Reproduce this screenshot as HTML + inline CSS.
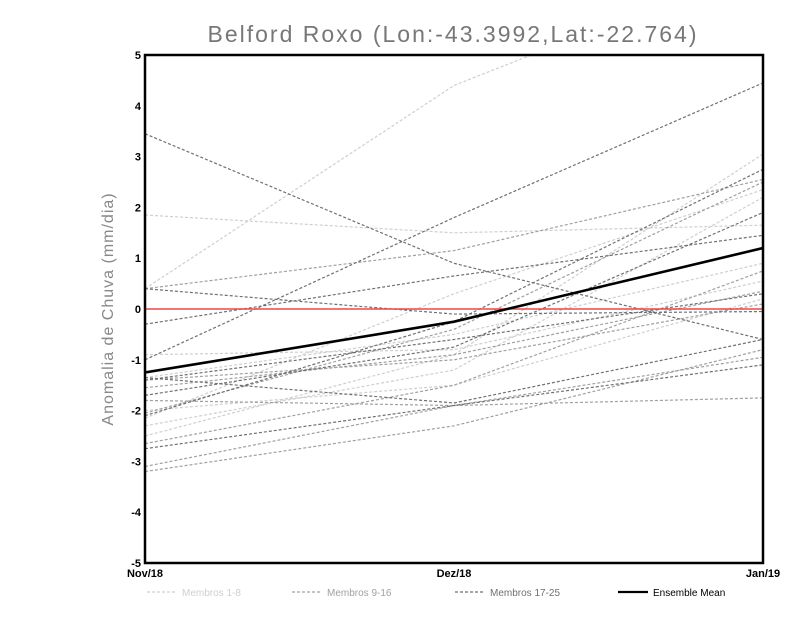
<!DOCTYPE html>
<html><head><meta charset="utf-8"><style>
body{margin:0;background:#fff;}
svg{display:block;font-family:"Liberation Sans",sans-serif;}
</style></head><body>
<svg id="chart" width="800" height="618">
<text x="453" y="42" text-anchor="middle" font-size="23" fill="#777" style="letter-spacing:2px">Belford Roxo (Lon:-43.3992,Lat:-22.764)</text>
<text transform="translate(113,309) rotate(-90)" text-anchor="middle" font-size="16" fill="#888" style="letter-spacing:1px">Anomalia de Chuva (mm/dia)</text>
<defs><clipPath id="clip"><rect x="145" y="55" width="618" height="508"/></clipPath></defs>
<g id="lines" clip-path="url(#clip)"></g>
<g id="axes"></g>
<g id="legend"></g>
</svg>
<script>
const categories = ["Nov/18","Dez/18","Jan/19"];
const yTicks = [-5,-4,-3,-2,-1,0,1,2,3,4,5];
const membros1to8 = [[0.4,4.4,6.8],[1.85,1.5,1.65],[-2.5,-0.9,3.05],[-2.15,0.3,2.35],[-0.9,-0.8,0.55],[-2.3,-1.2,2.2],[-1.35,-0.5,0.9],[-2.0,-1.5,0.2]];
const membros9to16 = [[0.4,1.15,2.55],[-2.65,-1.5,0.75],[-3.2,-2.3,-0.8],[-1.55,-0.9,0.35],[-1.8,-1.9,-1.75],[-2.05,-0.4,2.5],[-3.1,-1.9,-0.95],[-1.4,-1.0,0.1]];
const membros17to25 = [[3.45,0.9,-0.6],[-1.0,1.8,4.45],[-0.3,0.65,1.45],[-2.1,-0.25,2.75],[-1.7,-0.75,1.9],[-1.35,-1.85,-0.6],[-2.75,-1.9,-1.1],[-1.4,-0.6,0.3],[0.4,-0.1,-0.05]];
const ensembleMean = [-1.25,-0.25,1.2];

const NS="http://www.w3.org/2000/svg";
const L=145,R=763,T=55,B=563;
const xs=i=>L+(R-L)*i/(categories.length-1);
const ys=v=>B-(v+5)/10*(B-T);
function mk(tag,parent){const e=document.createElementNS(NS,tag);parent.appendChild(e);return e;}
const gl=document.getElementById('lines'),ga=document.getElementById('axes'),gg=document.getElementById('legend');
function series(vals,color,w,dash,parent,name){
  const p=mk('polyline',parent);
  p.setAttribute('points',vals.map((v,i)=>xs(i)+','+ys(v)).join(' '));
  p.setAttribute('fill','none');p.setAttribute('stroke',color);p.setAttribute('stroke-width',w);
  if(dash)p.setAttribute('stroke-dasharray',dash);
  
  
}
membros1to8.forEach((m,i)=>series(m,'#cfcfcf',1.2,'3,2',gl,'membro-'+(i+1)));
membros9to16.forEach((m,i)=>series(m,'#a0a0a0',1.2,'3,2',gl,'membro-'+(i+9)));
membros17to25.forEach((m,i)=>series(m,'#707070',1.2,'3,2',gl,'membro-'+(i+17)));
const zl=mk('line',gl);zl.setAttribute('x1',L);zl.setAttribute('x2',R);zl.setAttribute('y1',ys(0));zl.setAttribute('y2',ys(0));zl.setAttribute('stroke','#f04545');zl.setAttribute('stroke-width',1.6);


series(ensembleMean,'#000',2.6,null,gl,'ensemble-mean-line');
const fr=mk('rect',ga);fr.setAttribute('x',L);fr.setAttribute('y',T);fr.setAttribute('width',R-L);fr.setAttribute('height',B-T);fr.setAttribute('fill','none');fr.setAttribute('stroke','#000');fr.setAttribute('stroke-width',2.5);


yTicks.forEach(v=>{
  const t=mk('text',ga);t.setAttribute('x',L-4);t.setAttribute('y',ys(v)+4);t.setAttribute('text-anchor','end');t.setAttribute('font-size','11');t.setAttribute('font-weight','bold');t.textContent=v;
  
  
});
categories.forEach((c,i)=>{
  const t=mk('text',ga);t.setAttribute('x',xs(i));t.setAttribute('y',B+14);t.setAttribute('text-anchor','middle');t.setAttribute('font-size','11');t.setAttribute('font-weight','bold');t.textContent=c;
  
  
});
const leg=[["Membros 1-8","#cfcfcf",1.2,'3,2',147],["Membros 9-16","#a0a0a0",1.2,'3,2',292],["Membros 17-25","#707070",1.2,'3,2',455],["Ensemble Mean","#000",2.2,null,618]];
leg.forEach(l=>{
  const ln=mk('line',gg);ln.setAttribute('x1',l[4]);ln.setAttribute('x2',l[4]+30);ln.setAttribute('y1',592);ln.setAttribute('y2',592);ln.setAttribute('stroke',l[1]);ln.setAttribute('stroke-width',l[2]);if(l[3])ln.setAttribute('stroke-dasharray',l[3]);
  
  
  const t=mk('text',gg);t.setAttribute('x',l[4]+35);t.setAttribute('y',596);t.setAttribute('font-size','10');t.setAttribute('fill',l[1]==='#000'?'#000':l[1]);t.textContent=l[0];
  
  
});
</script>
</body></html>
